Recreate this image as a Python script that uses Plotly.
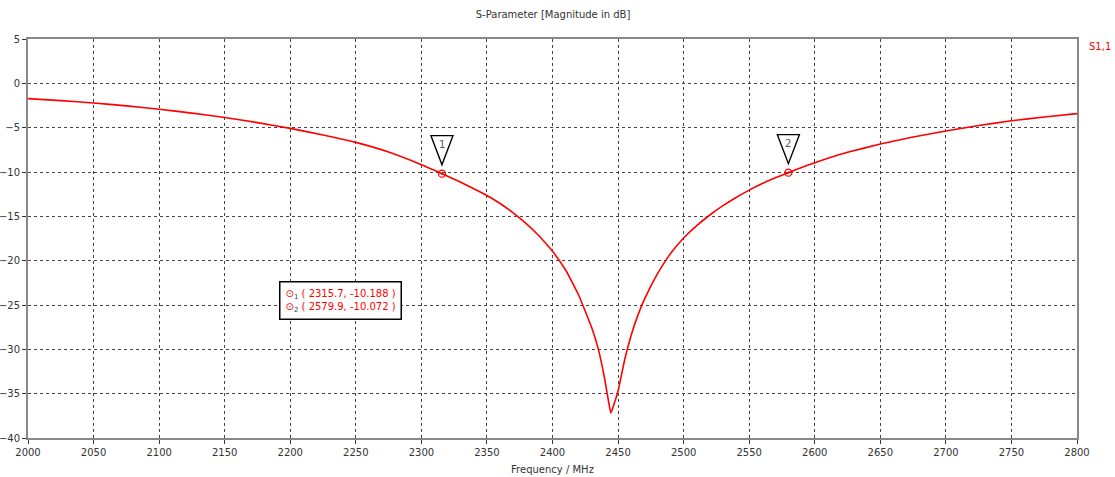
import plotly.graph_objects as go

# ---- data ----
freq_mhz = [2000, 2025, 2050, 2075, 2100, 2125, 2150, 2175, 2200, 2225, 2250, 2275,
            2300, 2310, 2315.7, 2320, 2330, 2340, 2350, 2360, 2370, 2380, 2390, 2400,
            2410, 2420, 2430, 2435, 2440, 2443, 2444.5, 2446, 2448, 2450, 2455, 2460,
            2465, 2470, 2480, 2490, 2500, 2510, 2520, 2530, 2540, 2550, 2560, 2570,
            2579.9, 2590, 2600, 2610, 2625, 2650, 2675, 2700, 2725, 2750, 2775, 2800]
s11_db = [-1.72, -1.95, -2.22, -2.54, -2.92, -3.36, -3.86, -4.43, -5.08, -5.82, -6.66, -7.75,
          -9.17, -9.80, -10.188, -10.47, -11.15, -11.88, -12.65, -13.55, -14.6, -15.82, -17.25, -18.95,
          -21.05, -23.9, -27.6, -30.0, -33.5, -36.1, -37.2, -36.6, -35.7, -34.7, -31.2, -28.4,
          -26.2, -24.4, -21.5, -19.2, -17.45, -16.05, -14.85, -13.8, -12.87, -12.04, -11.3, -10.65,
          -10.072, -9.5, -8.95, -8.45, -7.78, -6.85, -6.05, -5.37, -4.76, -4.22, -3.8, -3.42]

marker_ids = ["1", "2"]
marker_freq = [2315.7, 2579.9]
marker_val = [-10.188, -10.072]

x_ticks = list(range(2000, 2801, 50))
y_ticks = list(range(-40, 6, 5))

FONT = "DejaVu Sans"
RED = "#ff0000"

fig = go.Figure()
fig.add_trace(go.Scatter(x=freq_mhz, y=s11_db, mode="lines",
                         line=dict(color=RED, width=1.6, shape="spline", smoothing=0.4),
                         showlegend=False, hoverinfo="x+y"))
fig.add_trace(go.Scatter(x=marker_freq, y=marker_val, mode="markers",
                         marker=dict(symbol="circle-open-dot", size=7, color=RED,
                                     line=dict(width=1.3, color=RED)),
                         showlegend=False))

# marker flags (triangles with numbers) anchored at marker points, sized in pixels
for mid, fx, fy in zip(marker_ids, marker_freq, marker_val):
    fig.add_shape(type="path", xref="x", yref="y",
                  xsizemode="pixel", ysizemode="pixel",
                  xanchor=fx, yanchor=fy,
                  path="M -11,38 L 11,38 L 0,9 Z",
                  line=dict(color="black", width=1.4), fillcolor="white")
    fig.add_annotation(x=fx, y=fy, xref="x", yref="y", text=mid, showarrow=False,
                       yshift=29, font=dict(family=FONT, size=10, color="#555"))

# marker readout box
lines = [f"<span style='color:{RED}'>⊙</span><sub>{m}</sub> <span style='color:{RED}'>( {f:.1f}, {v:.3f} )</span>"
         for m, f, v in zip(marker_ids, marker_freq, marker_val)]
fig.add_annotation(x=0.239, y=0.393, xref="paper", yref="paper", xanchor="left", yanchor="top",
                   text="<br>".join(lines), showarrow=False, align="left",
                   bordercolor="black", borderwidth=1.5, borderpad=5, bgcolor="white",
                   font=dict(family=FONT, size=10, color="#444"))

# trace label
fig.add_annotation(x=1.01, y=0.98, xref="paper", yref="paper", xanchor="left", yanchor="middle",
                   text="S1,1", showarrow=False, font=dict(family=FONT, size=10, color=RED))

fig.update_layout(
    width=1115, height=477,
    margin=dict(l=28, r=38, t=39, b=39),
    paper_bgcolor="white", plot_bgcolor="white",
    font=dict(family=FONT, size=10, color="#333"),
    title=dict(text="S-Parameter [Magnitude in dB]", x=0.496, xanchor="center",
               y=0.97, yanchor="middle", font=dict(family=FONT, size=10, color="#333")),
)
fig.update_xaxes(range=[2000, 2800], tickvals=x_ticks, ticks="outside", ticklen=4,
                 tickcolor="#333", showgrid=True, gridcolor="#444", griddash="dot",
                 gridwidth=1, showline=True, linecolor="#888", linewidth=2, mirror=True,
                 zeroline=False, automargin=False,
                 title=dict(text="Frequency / MHz", standoff=9,
                            font=dict(family=FONT, size=10, color="#333")))
fig.update_yaxes(range=[-40, 5], tickvals=y_ticks, ticks="outside", ticklen=4,
                 tickcolor="#333", showgrid=True, gridcolor="#444", griddash="dot",
                 gridwidth=1, showline=True, linecolor="#888", linewidth=2, mirror=True,
                 zeroline=False, automargin=False)

fig.write_html("out.html", config={"displayModeBar": False},
               post_script="document.body.style.margin='0';")
